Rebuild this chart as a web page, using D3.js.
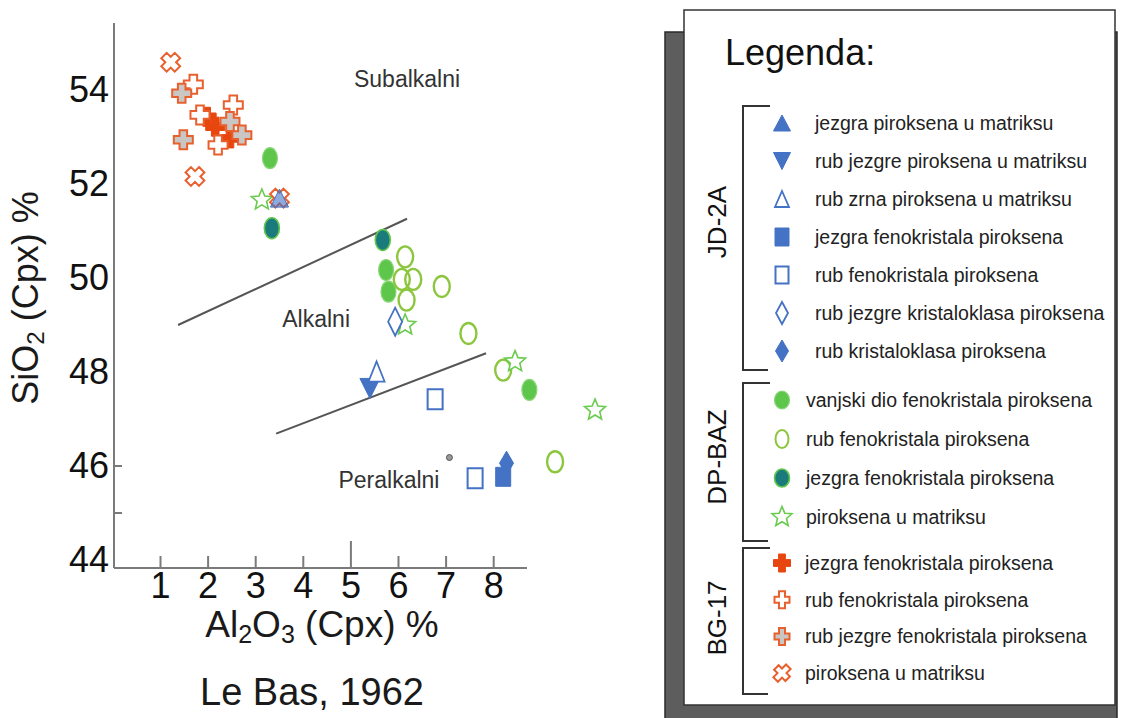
<!DOCTYPE html>
<html><head><meta charset="utf-8">
<script src="https://cdn.jsdelivr.net/npm/d3@7"></script>
<style>body{margin:0;background:#fff;} svg{display:block;font-family:"Liberation Sans",Arial,Helvetica,sans-serif;}</style>
</head><body><svg id="c" width="1123" height="718"></svg>
<script>
// ---------------- DATA ----------------
const xTicks = [1,2,3,4,5,6,7,8];
const yTickLabels = [44,46,48,50,52,54];
const yTickMarks = [45,46];
const xTitle = ["Al","2","O","3"," (Cpx) %"];
const yTitle = ["SiO","2"," (Cpx) %"];
const sourceNote = "Le Bas, 1962";
const fieldNames = ["Subalkalni","Alkalni","Peralkalni"];
const fieldAnchors = [[6.19,54.23],[4.28,49.13],[5.81,45.70]];
const upperBoundary = [[1.38,49.0],[6.19,51.26]];
const lowerBoundary = [[3.44,46.69],[7.85,48.40]];

// JD-2A
const jdCoreMatrix   = [[3.51,51.70]];
const jdRimCoreMatrix= [[5.41,47.65]];
const jdGrainRim     = [[5.55,48.01]];
const jdPhenoCore    = [[8.21,45.77]];
const jdPhenoRim     = [[6.78,47.42],[7.62,45.74]];
const jdClastCoreRim = [[5.94,49.07]];
const jdClastRim     = [[8.28,46.06]];
// DP-BAZ
const dpOuter  = [[3.31,52.55],[5.75,50.17],[5.80,49.71],[8.76,47.62]];
const dpRim    = [[6.15,50.45],[6.08,49.97],[6.32,49.97],[6.18,49.53],[6.92,49.82],[7.48,48.82],[8.21,48.04],[9.30,46.09]];
const dpCore   = [[3.35,51.06],[5.68,50.81]];
const dpMatrix = [[3.14,51.66],[6.15,49.0],[8.46,48.22],[10.14,47.19]];
// BG-17
const bgCore    = [[1.98,53.43],[2.16,53.22],[2.47,52.97]];
const bgRim     = [[1.70,54.12],[1.84,53.47],[2.54,53.68],[2.22,52.83]];
const bgRimCore = [[1.456,53.93],[2.47,53.33],[2.72,53.04],[1.49,52.94]];
const bgMatrix  = [[1.225,54.59],[1.735,52.16],[3.51,51.70]];
const strayDot  = [[7.08,46.18]];

const legendTitle = "Legenda:";
const groupNames = ["JD-2A","DP-BAZ","BG-17"];
const legendJD = ["jezgra piroksena u matriksu","rub jezgre piroksena u matriksu","rub zrna piroksena u matriksu","jezgra fenokristala piroksena","rub fenokristala piroksena","rub jezgre kristaloklasa piroksena","rub kristaloklasa piroksena"];
const legendDP = ["vanjski dio fenokristala piroksena","rub fenokristala piroksena","jezgra fenokristala piroksena","piroksena u matriksu"];
const legendBG = ["jezgra fenokristala piroksena","rub fenokristala piroksena","rub jezgre fenokristala piroksena","piroksena u matriksu"];

// ---------------- STYLES ----------------
const blue = "#4472c4";
const styles = {
  triUp:     {shape:'triUp',  w:18,h:18, lw:17,lh:16, fill:blue, stroke:blue, sw:1, op:0.6},
  triDown:   {shape:'triDown',w:20,h:20, lw:17,lh:17, fill:blue, stroke:blue, sw:1},
  triOpen:   {shape:'triUp',  w:16,h:20, lw:14,lh:16, fill:'#fff', stroke:blue, sw:1.8},
  sqFilled:  {shape:'rect',   w:15,h:19, lw:14,lh:18, fill:blue, stroke:blue, sw:1},
  sqOpen:    {shape:'rect',   w:15,h:20, lw:13,lh:17, fill:'#fff', stroke:blue, sw:2},
  diaOpen:   {shape:'diamond',w:14,h:28, lw:12,lh:22, fill:'#fff', stroke:blue, sw:1.8},
  diaFilled: {shape:'diamond',w:14,h:24, lw:13,lh:22, fill:blue, stroke:blue, sw:1},
  ellFilled: {shape:'ellipse',w:15,h:21, lw:15,lh:18, fill:'#5ec64b', stroke:'#8ad677', sw:1.2},
  ellOpen:   {shape:'ellipse',w:16,h:21, lw:13,lh:18, fill:'none', stroke:'#8cc63e', sw:2.4},
  ellTeal:   {shape:'ellipse',w:15,h:21, lw:15,lh:18, fill:'#1b7b7c', stroke:'#5ec64b', sw:1.6},
  star:      {shape:'star',   w:22,h:22, lw:20,lh:21, fill:'#fff', stroke:'#6acb4e', sw:1.6},
  crossSolid:{shape:'cross',  w:19,h:19, lw:17,lh:18, fill:'#e8460f', stroke:'#e8460f', sw:1},
  crossOpen: {shape:'cross',  w:19,h:19, lw:15,lh:17, fill:'#fff', stroke:'#e8602e', sw:2},
  crossGrey: {shape:'cross',  w:19,h:19, lw:15,lh:17, fill:'#c9c6c4', stroke:'#e8602e', sw:2},
  xMark:     {shape:'x',      w:19,h:19, lw:16,lh:18, fill:'#fff', stroke:'#e8602e', sw:2},
};

const series = [
  {g:0, label:legendJD[0], data:jdCoreMatrix,    st:'triUp'},
  {g:0, label:legendJD[1], data:jdRimCoreMatrix, st:'triDown'},
  {g:0, label:legendJD[2], data:jdGrainRim,      st:'triOpen'},
  {g:0, label:legendJD[3], data:jdPhenoCore,     st:'sqFilled'},
  {g:0, label:legendJD[4], data:jdPhenoRim,      st:'sqOpen'},
  {g:0, label:legendJD[5], data:jdClastCoreRim,  st:'diaOpen'},
  {g:0, label:legendJD[6], data:jdClastRim,      st:'diaFilled'},
  {g:1, label:legendDP[0], data:dpOuter,  st:'ellFilled'},
  {g:1, label:legendDP[1], data:dpRim,    st:'ellOpen'},
  {g:1, label:legendDP[2], data:dpCore,   st:'ellTeal'},
  {g:1, label:legendDP[3], data:dpMatrix, st:'star'},
  {g:2, label:legendBG[0], data:bgCore,    st:'crossSolid'},
  {g:2, label:legendBG[1], data:bgRim,     st:'crossOpen'},
  {g:2, label:legendBG[2], data:bgRimCore, st:'crossGrey'},
  {g:2, label:legendBG[3], data:bgMatrix,  st:'xMark'},
];

function shapePath(shape,w,h){
  switch(shape){
    case 'triUp': return `M0,${-h/2}L${w/2},${h/2}L${-w/2},${h/2}Z`;
    case 'triDown': return `M0,${h/2}L${w/2},${-h/2}L${-w/2},${-h/2}Z`;
    case 'rect': return `M${-w/2},${-h/2}h${w}v${h}h${-w}Z`;
    case 'diamond': return `M0,${-h/2}L${w/2},0L0,${h/2}L${-w/2},0Z`;
    case 'ellipse': return `M${-w/2},0a${w/2},${h/2} 0 1,0 ${w},0a${w/2},${h/2} 0 1,0 ${-w},0Z`;
    case 'star': {
      const R=h/2, r=R*0.45; let p=[];
      for(let i=0;i<10;i++){const a=-Math.PI/2+i*Math.PI/5; const rr=i%2?r:R; p.push([rr*Math.cos(a),rr*Math.sin(a)]);}
      return 'M'+p.map(q=>q[0].toFixed(2)+','+q[1].toFixed(2)).join('L')+'Z';
    }
    case 'cross': case 'x': {
      const t=w*0.4, a=(w-t)/2, b=(h-t)/2;
      return `M${-t/2},${-h/2}h${t}v${b}h${a}v${t}h${-a}v${b}h${-t}v${-b}h${-a}v${-t}h${a}Z`;
    }
  }
}

// ---------------- CHART ----------------
const svg = d3.select('#c');
const x = d3.scaleLinear().domain([0,10]).range([112.4,588.4]);
const y = d3.scaleLinear().domain([44,55]).range([560,43]);
const axisX0 = 114, axisY0 = 568;
const axisColor = '#7a7a7a';

// axis lines
svg.append('line').attr('x1',axisX0).attr('x2',axisX0).attr('y1',23).attr('y2',axisY0).attr('stroke',axisColor).attr('stroke-width',2);
svg.append('line').attr('x1',axisX0).attr('x2',x(8.71)).attr('y1',axisY0).attr('y2',axisY0).attr('stroke',axisColor).attr('stroke-width',2);

const gx = svg.append('g').attr('transform',`translate(0,${axisY0})`)
  .call(d3.axisBottom(x).tickValues(xTicks).tickSizeInner(-12).tickSizeOuter(0).tickPadding(4).tickFormat(d3.format('d')));
gx.select('.domain').remove();
gx.attr('font-family',null).attr('font-size',null);
gx.selectAll('.tick line').attr('stroke',axisColor).attr('stroke-width',2).attr('y2',d=>d===5?-27:-12);
gx.selectAll('.tick text').attr('font-size',36).attr('fill','#111');

const gy = svg.append('g').attr('transform',`translate(${axisX0},0)`)
  .call(d3.axisLeft(y).tickValues(yTickLabels).tickSize(0).tickPadding(5).tickFormat(d3.format('d')));
gy.select('.domain').remove();
gy.attr('font-family',null).attr('font-size',null);
gy.selectAll('.tick text').attr('font-size',36).attr('fill','#111');
svg.selectAll('.ytm').data(yTickMarks).enter().append('line')
  .attr('x1',axisX0).attr('x2',axisX0+8).attr('y1',d=>y(d)).attr('y2',d=>y(d)).attr('stroke',axisColor).attr('stroke-width',2);

// titles
const xt = svg.append('text').attr('x',322).attr('y',637).attr('text-anchor','middle').attr('font-size',37).attr('fill','#1a1a1a');
xTitle.forEach((s,i)=>{
  const sub = (i===1||i===3);
  xt.append('tspan').attr('font-size',sub?25:null).attr('dy',sub?6:(i>0?-6:0)).text(s);
});
const yt = svg.append('text').attr('transform','translate(38,298) rotate(-90)').attr('text-anchor','middle').attr('font-size',36).attr('fill','#1a1a1a');
yTitle.forEach((s,i)=>{
  const sub = i===1;
  yt.append('tspan').attr('font-size',sub?24:null).attr('dy',sub?6:(i>0?-6:0)).text(s);
});
svg.append('text').attr('x',312).attr('y',705).attr('text-anchor','middle').attr('font-size',38).attr('fill','#1a1a1a').text(sourceNote);

// field boundaries
const line = d3.line().x(d=>x(d[0])).y(d=>y(d[1]));
[upperBoundary,lowerBoundary].forEach(b=>svg.append('path').attr('d',line(b)).attr('fill','none').attr('stroke','#555').attr('stroke-width',2));
svg.selectAll('.field').data(fieldNames).enter().append('text')
  .attr('x',(d,i)=>x(fieldAnchors[i][0])).attr('y',(d,i)=>y(fieldAnchors[i][1])).attr('dy','0.35em')
  .attr('text-anchor','middle').attr('font-size',23).attr('fill','#333').text(d=>d);

// points: draw order DP, BG, JD
function drawSeries(s){
  const st = styles[s.st];
  svg.append('g').selectAll('path').data(s.data).enter().append('path')
    .attr('d',shapePath(st.shape,st.w,st.h))
    .attr('transform',d=>`translate(${x(d[0])},${y(d[1])})${st.shape==='x'?' rotate(45)':''}`)
    .attr('fill',st.fill).attr('fill-opacity',st.op||1).attr('stroke',st.stroke).attr('stroke-width',st.sw);
}
[1,2,0].forEach(g=>series.filter(s=>s.g===g).forEach(drawSeries));
svg.selectAll('.stray').data(strayDot).enter().append('circle')
  .attr('cx',d=>x(d[0])).attr('cy',d=>y(d[1])).attr('r',3).attr('fill','#999').attr('stroke','#555').attr('stroke-width',1);

// ---------------- LEGEND ----------------
const groupLayout = [
  {top:123, step:38,   textX:815, bTop:106, bBot:370, labelY:222},
  {top:400, step:39,   textX:806, bTop:383, bBot:541, labelY:457},
  {top:563, step:36.7, textX:805, bTop:548, bBot:694, labelY:618},
];
const lg = svg.append('g');
lg.append('rect').attr('x',665).attr('y',32).attr('width',452).attr('height',700).attr('fill','#5d5d5d').attr('stroke','#2a2a2a').attr('stroke-width',1.5);
lg.append('rect').attr('x',684).attr('y',10).attr('width',431).attr('height',695).attr('fill','#fff').attr('stroke','#333').attr('stroke-width',1.5);
lg.append('text').attr('x',725).attr('y',65).attr('font-size',36).attr('fill','#111').text(legendTitle);
groupLayout.forEach((L,gi)=>{
  lg.append('path').attr('d',`M770,${L.bTop}H743V${L.bBot}H768`).attr('fill','none').attr('stroke','#333').attr('stroke-width',2);
  lg.append('text').attr('transform',`translate(717,${L.labelY}) rotate(-90)`).attr('dy','0.35em').attr('text-anchor','middle')
    .attr('font-size',26).attr('fill','#111').text(groupNames[gi]);
  series.filter(s=>s.g===gi).forEach((s,i)=>{
    const st = styles[s.st], cy = L.top + i*L.step;
    lg.append('path').attr('d',shapePath(st.shape,st.lw,st.lh))
      .attr('transform',`translate(782,${cy})${st.shape==='x'?' rotate(45)':''}`)
      .attr('fill',st.fill==='none'?'#fff':st.fill).attr('stroke',st.stroke).attr('stroke-width',Math.min(st.sw,2));
    lg.append('text').attr('x',L.textX).attr('y',cy).attr('dy','0.35em').attr('font-size',19.5).attr('fill','#222').text(s.label);
  });
});
</script></body></html>
